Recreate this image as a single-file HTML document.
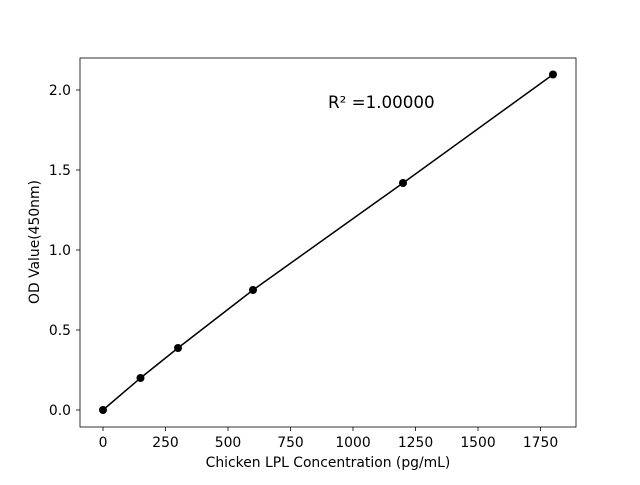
<!DOCTYPE html>
<html><head><meta charset="utf-8"><style>body{margin:0;background:#fff}</style></head><body>
<svg width="640" height="480" xmlns="http://www.w3.org/2000/svg" font-family="DejaVu Sans, Liberation Sans, sans-serif">
<rect width="640" height="480" fill="#fff"/>
<rect x="80" y="58" width="496" height="369" fill="none" stroke="#000" stroke-width="0.8"/>
<g stroke="#000" stroke-width="0.8">
<line x1="103" y1="427" x2="103" y2="431"/><line x1="165.5" y1="427" x2="165.5" y2="431"/>
<line x1="228" y1="427" x2="228" y2="431"/><line x1="290.5" y1="427" x2="290.5" y2="431"/>
<line x1="353" y1="427" x2="353" y2="431"/><line x1="415.5" y1="427" x2="415.5" y2="431"/>
<line x1="478" y1="427" x2="478" y2="431"/><line x1="540.5" y1="427" x2="540.5" y2="431"/>
<line x1="76" y1="410" x2="80" y2="410"/><line x1="76" y1="330" x2="80" y2="330"/>
<line x1="76" y1="250" x2="80" y2="250"/><line x1="76" y1="170" x2="80" y2="170"/>
<line x1="76" y1="90" x2="80" y2="90"/>
</g>
<g font-size="13.9" text-anchor="middle" fill="#000">
<text x="103" y="447">0</text><text x="165.5" y="447">250</text><text x="228" y="447">500</text>
<text x="290.5" y="447">750</text><text x="353" y="447">1000</text><text x="415.5" y="447">1250</text>
<text x="478" y="447">1500</text><text x="540.5" y="447">1750</text>
</g>
<g font-size="13.9" text-anchor="end" fill="#000">
<text x="71" y="415">0.0</text><text x="71" y="335">0.5</text><text x="71" y="255">1.0</text>
<text x="71" y="175">1.5</text><text x="71" y="95">2.0</text>
</g>
<text x="328" y="467" font-size="13.9" text-anchor="middle">Chicken LPL Concentration (pg/mL)</text>
<text transform="translate(39,242) rotate(-90)" font-size="13.9" text-anchor="middle">OD Value(450nm)</text>
<text x="328" y="108" font-size="16.7">R² =1.00000</text>
<polyline points="103,410 140.5,378 178,348 253,290 403,183 553,74.5" fill="none" stroke="#000" stroke-width="1.5"/>
<g fill="#000">
<circle cx="103" cy="410" r="4"/><circle cx="140.5" cy="378" r="4"/><circle cx="178" cy="348" r="4"/>
<circle cx="253" cy="290" r="4"/><circle cx="403" cy="183" r="4"/><circle cx="553" cy="74.5" r="4"/>
</g>
</svg>
</body></html>
